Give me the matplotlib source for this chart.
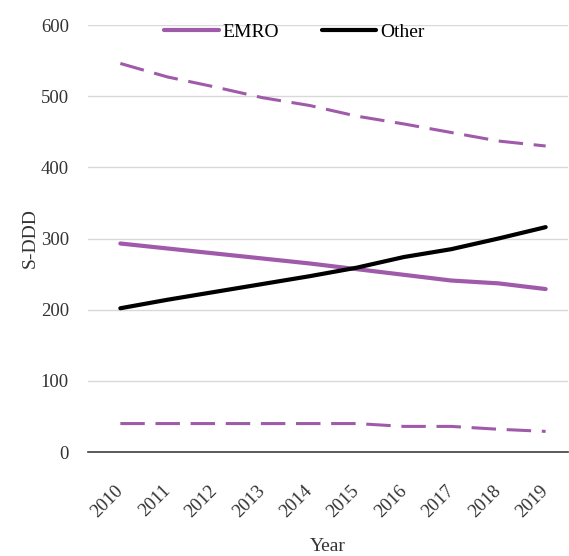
import matplotlib
matplotlib.use('Agg')
import matplotlib.pyplot as plt

years = [2010, 2011, 2012, 2013, 2014, 2015, 2016, 2017, 2018, 2019]
emro = [293, 286, 279, 272, 265, 257, 249, 241, 237, 229]
other = [202, 214, 225, 236, 247, 259, 274, 285, 300, 316]
emro_upper = [546, 527, 513, 498, 487, 472, 461, 449, 437, 430]
emro_lower = [40, 40, 40, 40, 40, 40, 36, 36, 32, 29]

purple = '#a05aaa'
plt.rcParams['font.family'] = ['Liberation Serif', 'DejaVu Serif']

fig = plt.figure(figsize=(5.69, 5.56), dpi=100)
ax = fig.add_axes([0.155, 0.187, 0.843, 0.768])

x = list(range(len(years)))
ax.plot(x, emro, color=purple, lw=3, label='EMRO', solid_capstyle='round')
ax.plot(x, other, color='black', lw=3, label='Other', solid_capstyle='round')
ax.plot(x, emro_upper, color=purple, lw=2.2, dashes=(8, 3.5))
ax.plot(x, emro_lower, color=purple, lw=2.2, dashes=(8, 3.5))

ax.set_ylim(0, 600)
ax.set_yticks(range(0, 601, 100))
ax.set_xlim(-0.68, 9.47)
ax.set_xticks(x)
ax.set_xticklabels([str(y) for y in years], rotation=45, ha='right', va='center',
                   rotation_mode='anchor')
ax.grid(axis='y', color='#d9d9d9', lw=1)
ax.set_axisbelow(True)
for s in ['top', 'right', 'left']:
    ax.spines[s].set_visible(False)
ax.spines['bottom'].set_color('#404040')
ax.spines['bottom'].set_linewidth(1.2)
ax.tick_params(axis='both', length=0, labelsize=13.5, colors='#333333')
ax.tick_params(axis='y', pad=14)
ax.tick_params(axis='x', pad=26)

ax.set_ylabel('S-DDD', fontsize=14, color='#333333')
ax.set_xlabel('Year', fontsize=14, color='#333333')
ax.yaxis.set_label_coords(-0.12, 0.5)
ax.xaxis.set_label_coords(0.5, -0.222)
ax.xaxis.label.set_va('center')
ax.yaxis.label.set_va('center')

ax.legend(loc='upper center', bbox_to_anchor=(0.43, 1.045), ncol=2, frameon=False,
          fontsize=14, handlelength=2.8, handletextpad=0.2, columnspacing=2.2)

fig.savefig('out.png', dpi=100)
